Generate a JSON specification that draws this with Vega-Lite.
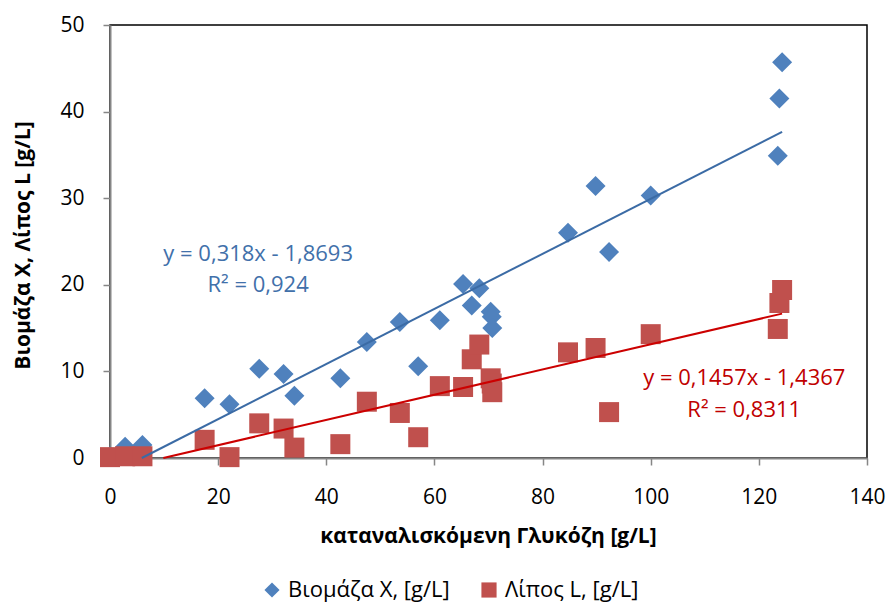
{
  "$schema": "https://vega.github.io/schema/vega-lite/v6.json",
  "autosize": "none",
  "width": 757,
  "height": 433,
  "padding": {"left": 110, "top": 25, "right": 21, "bottom": 145},
  "background": "white",
  "config": {
    "view": {"stroke": "black", "strokeWidth": 1.5},
    "font": "Open Sans",
    "axis": {
      "labelFont": "Open Sans", "labelFontSize": 21, "labelColor": "black",
      "titleFont": "Open Sans", "titleFontSize": 21, "titleFontWeight": "bold", "titleColor": "black",
      "domainColor": "#868686", "domainWidth": 2, "tickColor": "#868686", "tickSize": 7, "tickWidth": 1.5,
      "grid": false
    }
  },
  "datasets": {
    "points": [
      {"glucose": 0, "value": 0.2, "series": "Βιομάζα X, [g/L]"},
      {"glucose": 2.8, "value": 1.3, "series": "Βιομάζα X, [g/L]"},
      {"glucose": 6.0, "value": 1.5, "series": "Βιομάζα X, [g/L]"},
      {"glucose": 17.5, "value": 6.9, "series": "Βιομάζα X, [g/L]"},
      {"glucose": 22.1, "value": 6.2, "series": "Βιομάζα X, [g/L]"},
      {"glucose": 27.6, "value": 10.3, "series": "Βιομάζα X, [g/L]"},
      {"glucose": 32.1, "value": 9.7, "series": "Βιομάζα X, [g/L]"},
      {"glucose": 34.1, "value": 7.2, "series": "Βιομάζα X, [g/L]"},
      {"glucose": 42.6, "value": 9.2, "series": "Βιομάζα X, [g/L]"},
      {"glucose": 47.5, "value": 13.4, "series": "Βιομάζα X, [g/L]"},
      {"glucose": 53.6, "value": 15.7, "series": "Βιομάζα X, [g/L]"},
      {"glucose": 57.0, "value": 10.6, "series": "Βιομάζα X, [g/L]"},
      {"glucose": 61.0, "value": 15.9, "series": "Βιομάζα X, [g/L]"},
      {"glucose": 65.3, "value": 20.1, "series": "Βιομάζα X, [g/L]"},
      {"glucose": 66.9, "value": 17.6, "series": "Βιομάζα X, [g/L]"},
      {"glucose": 68.3, "value": 19.6, "series": "Βιομάζα X, [g/L]"},
      {"glucose": 70.4, "value": 16.9, "series": "Βιομάζα X, [g/L]"},
      {"glucose": 70.6, "value": 16.3, "series": "Βιομάζα X, [g/L]"},
      {"glucose": 70.7, "value": 15.0, "series": "Βιομάζα X, [g/L]"},
      {"glucose": 84.7, "value": 26.0, "series": "Βιομάζα X, [g/L]"},
      {"glucose": 89.8, "value": 31.4, "series": "Βιομάζα X, [g/L]"},
      {"glucose": 92.3, "value": 23.8, "series": "Βιομάζα X, [g/L]"},
      {"glucose": 100.0, "value": 30.3, "series": "Βιομάζα X, [g/L]"},
      {"glucose": 123.5, "value": 34.9, "series": "Βιομάζα X, [g/L]"},
      {"glucose": 123.8, "value": 41.5, "series": "Βιομάζα X, [g/L]"},
      {"glucose": 124.3, "value": 45.7, "series": "Βιομάζα X, [g/L]"},
      {"glucose": 0, "value": 0.1, "series": "Λίπος L, [g/L]"},
      {"glucose": 2.8, "value": 0.2, "series": "Λίπος L, [g/L]"},
      {"glucose": 6.0, "value": 0.2, "series": "Λίπος L, [g/L]"},
      {"glucose": 17.5, "value": 2.1, "series": "Λίπος L, [g/L]"},
      {"glucose": 22.1, "value": 0.1, "series": "Λίπος L, [g/L]"},
      {"glucose": 27.6, "value": 4.0, "series": "Λίπος L, [g/L]"},
      {"glucose": 32.1, "value": 3.4, "series": "Λίπος L, [g/L]"},
      {"glucose": 34.1, "value": 1.2, "series": "Λίπος L, [g/L]"},
      {"glucose": 42.6, "value": 1.6, "series": "Λίπος L, [g/L]"},
      {"glucose": 47.5, "value": 6.5, "series": "Λίπος L, [g/L]"},
      {"glucose": 53.6, "value": 5.2, "series": "Λίπος L, [g/L]"},
      {"glucose": 57.0, "value": 2.4, "series": "Λίπος L, [g/L]"},
      {"glucose": 61.0, "value": 8.3, "series": "Λίπος L, [g/L]"},
      {"glucose": 65.3, "value": 8.2, "series": "Λίπος L, [g/L]"},
      {"glucose": 66.9, "value": 11.4, "series": "Λίπος L, [g/L]"},
      {"glucose": 68.3, "value": 13.1, "series": "Λίπος L, [g/L]"},
      {"glucose": 70.4, "value": 9.2, "series": "Λίπος L, [g/L]"},
      {"glucose": 70.6, "value": 8.6, "series": "Λίπος L, [g/L]"},
      {"glucose": 70.7, "value": 7.6, "series": "Λίπος L, [g/L]"},
      {"glucose": 84.7, "value": 12.2, "series": "Λίπος L, [g/L]"},
      {"glucose": 89.8, "value": 12.7, "series": "Λίπος L, [g/L]"},
      {"glucose": 92.3, "value": 5.3, "series": "Λίπος L, [g/L]"},
      {"glucose": 100.0, "value": 14.3, "series": "Λίπος L, [g/L]"},
      {"glucose": 123.5, "value": 14.9, "series": "Λίπος L, [g/L]"},
      {"glucose": 123.8, "value": 17.9, "series": "Λίπος L, [g/L]"},
      {"glucose": 124.3, "value": 19.4, "series": "Λίπος L, [g/L]"}
    ],
    "trends": [
      {"glucose": 5.88, "value": 0, "series": "X"},
      {"glucose": 124.3, "value": 37.66, "series": "X"},
      {"glucose": 9.86, "value": 0, "series": "L"},
      {"glucose": 124.3, "value": 16.67, "series": "L"}
    ],
    "labels": [
      {"glucose": 27.4, "value": 23.6, "text": "y = 0,318x - 1,8693", "series": "X"},
      {"glucose": 27.4, "value": 20.0, "text": "R² = 0,924", "series": "X"},
      {"glucose": 117.3, "value": 9.27, "text": "y = 0,1457x - 1,4367", "series": "L"},
      {"glucose": 117.3, "value": 5.58, "text": "R² = 0,8311", "series": "L"}
    ]
  },
  "layer": [
    {
      "data": {"name": "points"},
      "mark": {"type": "point", "filled": true, "opacity": 1, "size": 400},
      "encoding": {
        "x": {
          "field": "glucose", "type": "quantitative",
          "scale": {"domain": [0, 140], "nice": false, "zero": false},
          "axis": {
            "title": "καταναλισκόμενη Γλυκόζη [g/L]",
            "values": [0, 20, 40, 60, 80, 100, 120, 140],
            "labelPadding": 21, "labelFlush": false, "labelOverlap": false,
            "titleX": 378, "titleY": 78, "titleBaseline": "middle", "titleAlign": "center"
          }
        },
        "y": {
          "field": "value", "type": "quantitative",
          "scale": {"domain": [0, 50], "nice": false, "zero": false},
          "axis": {
            "title": "Βιομάζα X, Λίπος L [g/L]",
            "values": [0, 10, 20, 30, 40, 50],
            "labelPadding": 19, "labelFlush": false, "labelOverlap": false,
            "titleX": -87, "titleY": 220, "titleAngle": 270, "titleBaseline": "middle", "titleAlign": "center"
          }
        },
        "color": {
          "field": "series", "type": "nominal",
          "scale": {"domain": ["Βιομάζα X, [g/L]", "Λίπος L, [g/L]"], "range": ["#4F81BD", "#C0504D"]},
          "legend": {
            "title": null, "orient": "none", "direction": "horizontal",
            "legendX": 151, "legendY": 554,
            "labelFont": "Open Sans", "labelFontSize": 22, "labelColor": "black", "labelLimit": 400,
            "symbolSize": 230, "labelOffset": 5, "columnPadding": 28, "symbolStrokeWidth": 0
          }
        },
        "shape": {
          "field": "series", "type": "nominal",
          "scale": {"domain": ["Βιομάζα X, [g/L]", "Λίπος L, [g/L]"], "range": ["diamond", "square"]},
          "legend": null
        }
      }
    },
    {
      "data": {"name": "trends"},
      "transform": [{"filter": "datum.series === 'X'"}],
      "mark": {"type": "line", "color": "#3B6BA5", "strokeWidth": 2},
      "encoding": {
        "x": {"field": "glucose", "type": "quantitative"},
        "y": {"field": "value", "type": "quantitative"}
      }
    },
    {
      "data": {"name": "trends"},
      "transform": [{"filter": "datum.series === 'L'"}],
      "mark": {"type": "line", "color": "#CC0000", "strokeWidth": 2},
      "encoding": {
        "x": {"field": "glucose", "type": "quantitative"},
        "y": {"field": "value", "type": "quantitative"}
      }
    },
    {
      "data": {"name": "labels"},
      "transform": [{"filter": "datum.series === 'X'"}],
      "mark": {"type": "text", "color": "#4170AA", "fontSize": 22, "font": "Open Sans", "align": "center", "baseline": "middle"},
      "encoding": {
        "x": {"field": "glucose", "type": "quantitative"},
        "y": {"field": "value", "type": "quantitative"},
        "text": {"field": "text"}
      }
    },
    {
      "data": {"name": "labels"},
      "transform": [{"filter": "datum.series === 'L'"}],
      "mark": {"type": "text", "color": "#C00000", "fontSize": 22, "font": "Open Sans", "align": "center", "baseline": "middle"},
      "encoding": {
        "x": {"field": "glucose", "type": "quantitative"},
        "y": {"field": "value", "type": "quantitative"},
        "text": {"field": "text"}
      }
    }
  ]
}
